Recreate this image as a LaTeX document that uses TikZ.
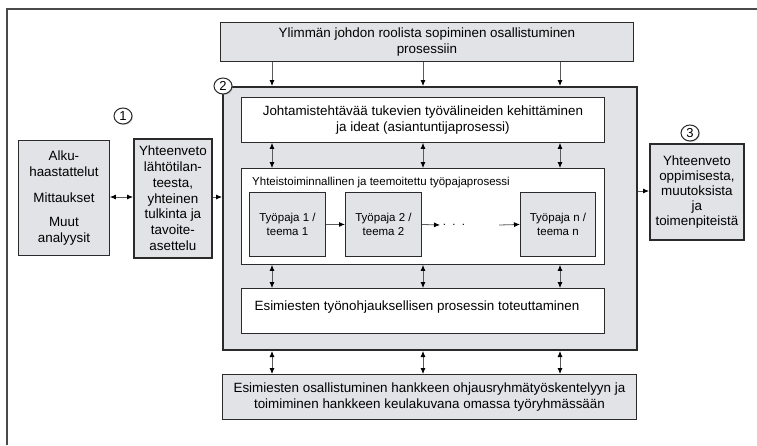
\documentclass[tikz,border=0pt]{standalone}
\usepackage{fontspec}
\setmainfont{Liberation Sans}
\usetikzlibrary{arrows.meta,shapes.geometric,shadows}

\definecolor{boxgray}{HTML}{E1E3E6}
\definecolor{edge}{HTML}{2A2A2A}
\definecolor{wire}{HTML}{5A5A5A}
\definecolor{framec}{HTML}{4A4A4A}

\newcommand\bigtxt{\fontsize{13.4}{16}\selectfont}
\newcommand\smalltxt{\fontsize{11.5}{14}\selectfont}

\begin{document}
\begin{tikzpicture}[x=1pt,y=-1pt,
  box/.style={draw=edge, line width=0.9pt, fill=boxgray, anchor=north west,
              inner sep=0pt, align=center, font=\bigtxt},
  whitebox/.style={box, fill=white},
  thickbox/.style={box, line width=1.8pt},
  wsbox/.style={box, font=\smalltxt},
  num/.style={ellipse, draw=edge, line width=1pt, fill=white,
              minimum width=18pt, minimum height=16pt, inner sep=0pt,
              font=\fontsize{13}{13}\selectfont,
              drop shadow={shadow xshift=0.9pt, shadow yshift=-0.9pt, opacity=0.4}},
  tipb/.tip={Latex[length=6pt,width=5pt,color=black]},
  arr/.style={draw=wire, line width=0.8pt, -tipb},
  darr/.style={draw=wire, line width=0.8pt, tipb-tipb}]

% page and outer frame
\fill[white] (0,0) rectangle (757,445);
\useasboundingbox (0,0) rectangle (757,445);
\draw[framec, line width=1.2pt] (757,9) -- (7,9) -- (7,445);

% column positions of the vertical connectors
\coordinate (c1) at (272,0);
\coordinate (c2) at (423,0);
\coordinate (c3) at (560,0);

% top box
\node[box, minimum width=413pt, minimum height=39pt] (top) at (220,22)
  {Ylimmän johdon roolista sopiminen osallistuminen\\prosessiin};

% main process frame
\node[box, line width=2pt, minimum width=414pt, minimum height=263pt] (big) at (222,86) {};

\node[whitebox, minimum width=363pt, minimum height=45pt] (joht) at (241,97)
  {Johtamistehtävää tukevien työvälineiden kehittäminen\\ja ideat (asiantuntijaprosessi)};

\node[whitebox, minimum width=363pt, minimum height=96pt] (yht) at (241,168) {};
\node[anchor=base west, font=\smalltxt, inner sep=0pt] (yhtlabel) at (252,185)
  {Yhteistoiminnallinen ja teemoitettu työpajaprosessi};

\node[wsbox, minimum width=76pt, minimum height=64pt] (tp1) at (249,192) {Työpaja 1 /\\teema 1};
\node[wsbox, minimum width=76pt, minimum height=64pt] (tp2) at (345,192) {Työpaja 2 /\\teema 2};
\node[wsbox, minimum width=75pt, minimum height=64pt] (tpn) at (520,192) {Työpaja n /\\teema n};

\node[font=\smalltxt, inner sep=0pt] (dots) at (454,225) {.\ \ .\ \ .};
\coordinate (d1) at (440,225);
\coordinate (d2) at (499,225);

\node[whitebox, minimum width=363pt, minimum height=45pt] (esim) at (241,288) {};
\node[font=\bigtxt, inner sep=0pt] (esimtxt) at (417,307)
  {Esimiesten työnohjauksellisen prosessin toteuttaminen};

% bottom box
\node[box, minimum width=414pt, minimum height=45pt] (bottom) at (222,374)
  {Esimiesten osallistuminen hankkeen ohjausryhmätyöskentelyyn ja\\toimiminen hankkeen keulakuvana omassa työryhmässään};

% left boxes
\node[box, minimum width=91pt, minimum height=115pt] (alku) at (18,140)
  {Alku-\\haastattelut\\[10pt]Mittaukset\\[8pt]Muut\\analyysit};
\node[thickbox, minimum width=78pt, minimum height=119pt,
      font=\fontsize{13.4}{15.8}\selectfont] (yhtv) at (133,138)
  {Yhteenveto\\lähtötilan-\\teesta,\\yhteinen\\tulkinta ja\\tavoite-\\asettelu};

% right box
\node[thickbox, minimum width=94pt, minimum height=96pt,
      font=\fontsize{13.4}{15}\selectfont] (res) at (649,143)
  {Yhteenveto\\oppimisesta,\\muutoksista\\ja\\toimenpiteistä};

% numbered markers
\node[num] (n1) at (123,116) {1};
\node[num] (n2) at (223,86) {2};
\node[num] (n3) at (690,133) {3};

% connectors
\foreach \c in {c1,c2,c3}{
  \draw[arr]  (\c |- top.south)  -- (\c |- big.north);
  \draw[darr] (\c |- joht.south) -- (\c |- yht.north);
  \draw[darr] (\c |- yht.south)  -- (\c |- esim.north);
  \draw[darr] (\c |- big.south)  -- (\c |- bottom.north);
}
\draw[darr] (alku.east |- 0,197) -- (yhtv.west |- 0,197);
\draw[arr]  (yhtv.east |- 0,197) -- (big.west |- 0,197);
\draw[arr]  (big.east |- 0,191) -- (res.west |- 0,191);

\draw[arr] (tp1.east) -- (tp2.west);
\draw[arr] (tp2.east) -- (d1);
\draw[arr] (d2) -- (tpn.west);
\end{tikzpicture}
\end{document}
